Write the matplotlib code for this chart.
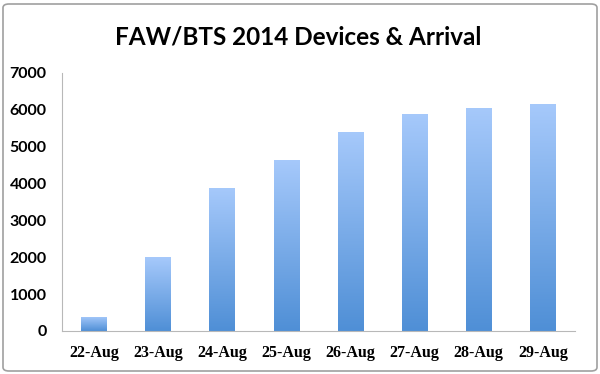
import numpy as np
import matplotlib
matplotlib.use("Agg")
import matplotlib.pyplot as plt
from matplotlib.colors import LinearSegmentedColormap
from matplotlib.patches import FancyBboxPatch

# data
days = ["22-Aug", "23-Aug", "24-Aug", "25-Aug", "26-Aug", "27-Aug", "28-Aug", "29-Aug"]
devices = [380, 1995, 3880, 4640, 5400, 5890, 6050, 6150]
yticks = [0, 1000, 2000, 3000, 4000, 5000, 6000, 7000]

cmap = LinearSegmentedColormap.from_list("bar", ["#4f8fd6", "#a6c9fb"])

fig = plt.figure(figsize=(6, 3.74), dpi=100)
ax = fig.add_axes([62 / 600, 43 / 374, 513 / 600, 258 / 374])

bars = ax.bar(range(len(days)), devices, width=0.4, color="none", edgecolor="none")
grad = np.linspace(0, 1, 256).reshape(-1, 1)
for b in bars:
    x0, y0 = b.get_x(), b.get_y()
    w, h = b.get_width(), b.get_height()
    im = ax.imshow(grad, cmap=cmap, origin="lower", aspect="auto",
                   extent=[x0, x0 + w, y0, y0 + h], zorder=2)
    im.set_clip_path(b)

ax.set_xlim(-0.5, len(days) - 0.5)
ax.set_ylim(0, 7000)
ax.set_yticks(yticks)
ax.set_xticks(range(len(days)))
ax.set_xticklabels(days, family="Liberation Serif", fontsize=11.5, fontweight="bold")
ax.set_yticklabels([str(t) for t in yticks], family="Lato", fontsize=11.5, fontweight="bold")
ax.tick_params(length=0)
ax.tick_params(axis="x", pad=10)
ax.tick_params(axis="y", pad=11)

for s in ["top", "right"]:
    ax.spines[s].set_visible(False)
ax.spines["left"].set_color("#b8b8b8")
ax.spines["bottom"].set_color("#b8b8b8")

fig.text(298 / 600, 1 - 37 / 374, "FAW/BTS 2014 Devices & Arrival", ha="center", va="center",
         family="Lato", fontsize=17.5, fontweight="bold")

border = FancyBboxPatch((3 / 600, 3 / 374), 594 / 600, 367 / 374,
                        boxstyle="round,pad=0,rounding_size=0.01",
                        transform=fig.transFigure, fill=False, edgecolor="#a0a0a0", linewidth=1.2)
fig.patches.append(border)

fig.savefig("out.png", dpi=100)
